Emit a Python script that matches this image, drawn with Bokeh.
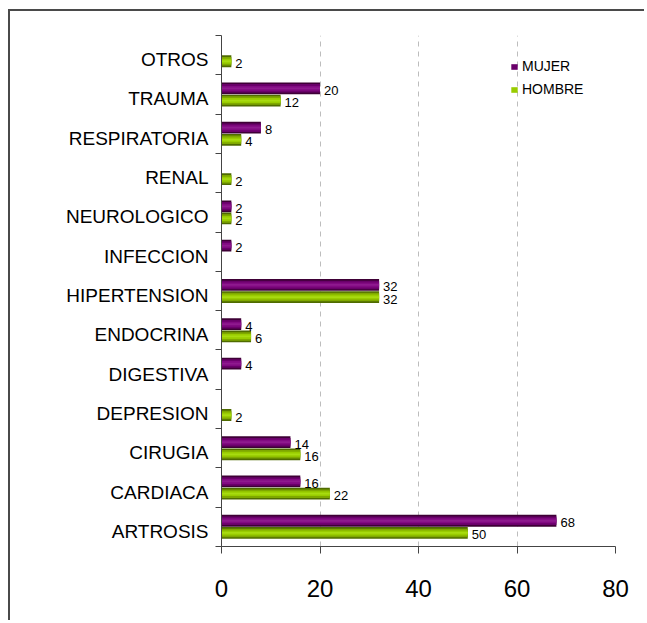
from bokeh.plotting import figure
from bokeh.layouts import column
from bokeh.models import ColumnDataSource, FixedTicker, Legend, LegendItem
from bokeh.core.properties import value
from bokeh.embed import file_html
from bokeh.resources import INLINE

categories = ["ARTROSIS", "CARDIACA", "CIRUGIA", "DEPRESION", "DIGESTIVA", "ENDOCRINA",
              "HIPERTENSION", "INFECCION", "NEUROLOGICO", "RENAL", "RESPIRATORIA",
              "TRAUMA", "OTROS"]
mujer = [68, 16, 14, 0, 4, 4, 32, 2, 2, 0, 8, 20, 0]
hombre = [50, 22, 16, 2, 0, 6, 32, 0, 2, 2, 4, 12, 2]
x_ticks = [0, 20, 40, 60, 80]

FONT = "Liberation Sans"
n = len(categories)
centers = [i + 0.5 for i in range(n)]
label_pos = [c - 0.115 for c in centers]

p = figure(width=636, height=611, output_backend="svg", toolbar_location=None,
           x_range=(0, 80), y_range=(0, n),
           min_border_left=211, min_border_right=31, min_border_top=24, min_border_bottom=76)
p.outline_line_color = None
p.background_fill_color = "white"
p.border_fill_color = "white"

# grid
p.ygrid.grid_line_color = None
p.xgrid.ticker = FixedTicker(ticks=[20, 40, 60, 80])
p.xgrid.grid_line_color = "#bdbdbd"
p.xgrid.grid_line_dash = "5 5"
p.xgrid.grid_line_width = 1

# axes
p.xaxis.ticker = FixedTicker(ticks=x_ticks)
p.xaxis.major_label_text_font = FONT
p.xaxis.major_label_text_font_size = "24px"
p.xaxis.major_label_text_color = "black"
p.xaxis.major_label_standoff = 26
p.xaxis.major_tick_out = 7
p.xaxis.major_tick_in = 0
p.xaxis.minor_tick_out = 0
p.xaxis.minor_tick_in = 0
p.xaxis.axis_line_color = "#444444"
p.xaxis.major_tick_line_color = "#444444"

p.yaxis.ticker = FixedTicker(ticks=label_pos, minor_ticks=list(range(n + 1)))
p.yaxis.major_label_overrides = {c: lab for c, lab in zip(label_pos, categories)}
p.yaxis.major_label_text_font = FONT
p.yaxis.major_label_text_font_size = "19px"
p.yaxis.major_label_text_color = "black"
p.yaxis.major_label_standoff = 7
p.yaxis.major_tick_out = 0
p.yaxis.major_tick_in = 0
p.yaxis.minor_tick_out = 6
p.yaxis.minor_tick_in = 0
p.yaxis.axis_line_color = "#444444"
p.yaxis.minor_tick_line_color = "#444444"

off = 0.155
h = 0.30
ym = [c + off for c in centers]
yh = [c - off for c in centers]
src_m = ColumnDataSource(dict(y=ym, v=mujer))
src_h = ColumnDataSource(dict(y=yh, v=hombre))

layers_m = [("#3e0036", 1.0), ("#6a006a", 0.72), ("#820a82", 0.42), ("#8e1a8e", 0.15)]
layers_h = [("#4f6b00", 1.0), ("#7fa800", 0.72), ("#99cc00", 0.42), ("#a8db10", 0.15)]

rm = []
for col, f in layers_m:
    rm.append(p.hbar(y="y", right="v", left=0, height=h * f, source=src_m,
                     fill_color=col, line_color=None))
rh = []
for col, f in layers_h:
    rh.append(p.hbar(y="y", right="v", left=0, height=h * f, source=src_h,
                     fill_color=col, line_color=None))

# value labels (nonzero only)
lab_m = ColumnDataSource(dict(x=[v for v in mujer if v], y=[y for y, v in zip(ym, mujer) if v],
                              t=[str(v) for v in mujer if v]))
lab_h = ColumnDataSource(dict(x=[v for v in hombre if v], y=[y for y, v in zip(yh, hombre) if v],
                              t=[str(v) for v in hombre if v]))
for s in (lab_m, lab_h):
    p.text(x="x", y="y", text="t", source=s, x_offset=4, y_offset=2,
           text_font=value(FONT), text_font_size="13px", text_color="black",
           text_baseline="middle", text_align="left")

legend = Legend(items=[LegendItem(label="MUJER", renderers=[rm[1]]),
                       LegendItem(label="HOMBRE", renderers=[rh[2]])],
                location=(289, 447), orientation="vertical")
legend.border_line_color = None
legend.background_fill_alpha = 0
legend.padding = 0
legend.margin = 0
legend.spacing = 3
legend.label_height = 20
legend.glyph_width = 8
legend.glyph_height = 7
legend.label_standoff = 4
legend.label_text_font = FONT
legend.label_text_font_size = "14px"
legend.label_text_color = "black"
p.add_layout(legend)

page = column(p, styles={"margin-left": "10px", "margin-top": "11px",
                         "box-shadow": "-2px -2px 0 0 #4a4a4a"})

open("out.html", "w").write(file_html(page, INLINE))
